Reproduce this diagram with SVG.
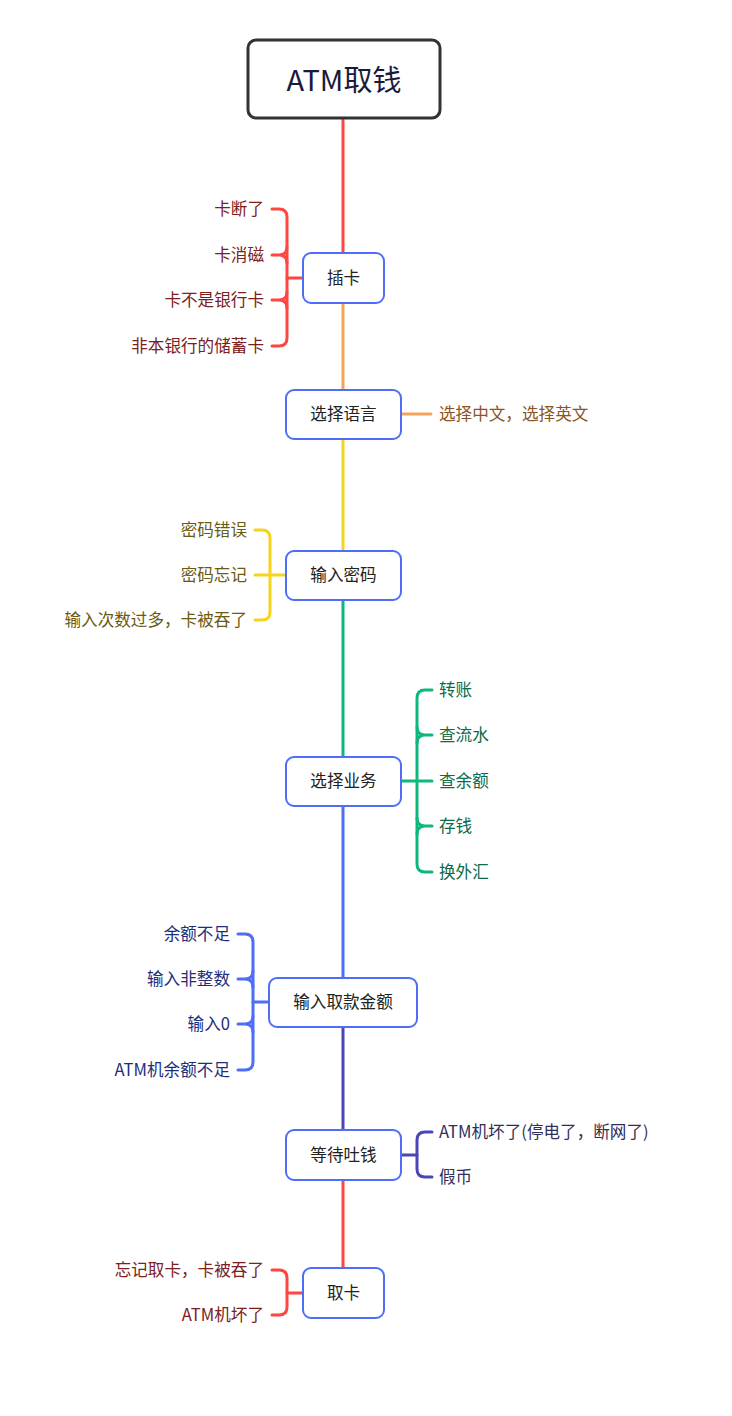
<svg xmlns="http://www.w3.org/2000/svg" width="732" height="1416" viewBox="0 0 732 1416">
<style>
text{font-family:"Noto Sans CJK SC","Noto Sans",sans-serif;font-size:16.6px;dominant-baseline:central}
.node rect{fill:#fff;stroke:#4f6ef7;stroke-width:2}
.node text{fill:#222;text-anchor:middle}
.c{fill:none;stroke-width:3;stroke-linecap:round}
.l{text-anchor:end}
</style>
<rect width="732" height="1416" fill="#fff"/>
<g id="connectors">
<path class="c" d="M343 120V253" stroke="#ff4640"/>
<path class="c" d="M343 303V390" stroke="#f4a45a"/>
<path class="c" d="M343 439V551" stroke="#f5d51c"/>
<path class="c" d="M343 600V757" stroke="#0db87a"/>
<path class="c" d="M343 806V978" stroke="#4f6ef7"/>
<path class="c" d="M343 1027V1130" stroke="#4b45b5"/>
<path class="c" d="M343 1180V1268" stroke="#ff4640"/>
<g stroke="#ff4640">
<path class="c" d="M303 278H287"/>
<path class="c" d="M272 209H279Q287 209 287 217V338Q287 346 279 346H272"/>
<path class="c" d="M272 255H279Q287 255 287 263M279 255Q287 255 287 247"/>
<path class="c" d="M272 300H279Q287 300 287 308M279 300Q287 300 287 292"/>
</g>
<path class="c" d="M402 414H431" stroke="#f4a45a"/>
<g stroke="#f5d51c">
<path class="c" d="M286 575H270"/>
<path class="c" d="M255 530H262Q270 530 270 538V612Q270 620 262 620H255"/>
<path class="c" d="M255 575H270"/>
</g>
<g stroke="#0db87a">
<path class="c" d="M402 781H417"/>
<path class="c" d="M432 690H425Q417 690 417 698V864Q417 872 425 872H432"/>
<path class="c" d="M432 735H425Q417 735 417 743M425 735Q417 735 417 727"/>
<path class="c" d="M432 781H417"/>
<path class="c" d="M432 826H425Q417 826 417 834M425 826Q417 826 417 818"/>
</g>
<g stroke="#4f6ef7">
<path class="c" d="M269 1002H253"/>
<path class="c" d="M238 934H245Q253 934 253 942V1062Q253 1070 245 1070H238"/>
<path class="c" d="M238 979H245Q253 979 253 987M245 979Q253 979 253 971"/>
<path class="c" d="M238 1024H245Q253 1024 253 1032M245 1024Q253 1024 253 1016"/>
</g>
<g stroke="#4b45b5">
<path class="c" d="M402 1155H417"/>
<path class="c" d="M432 1132H425Q417 1132 417 1140V1169Q417 1177 425 1177H432"/>
</g>
<g stroke="#ff4640">
<path class="c" d="M303 1293H287"/>
<path class="c" d="M272 1270H279Q287 1270 287 1278V1307Q287 1315 279 1315H272"/>
</g>
</g>
<g id="root">
<rect x="248" y="40" width="192" height="78" rx="8" fill="#fff" stroke="#333" stroke-width="3"/>
<text x="344" y="78" text-anchor="middle" fill="#1a1a3a" style="font-size:29px">ATM取钱</text>
</g>
<g id="n1" class="node"><rect x="303" y="253" width="81" height="50" rx="8"/><text x="343.5" y="277">插卡</text></g>
<g id="n2" class="node"><rect x="286" y="390" width="115" height="49" rx="8"/><text x="343.5" y="413">选择语言</text></g>
<g id="n3" class="node"><rect x="286" y="551" width="115" height="49" rx="8"/><text x="343.5" y="574">输入密码</text></g>
<g id="n4" class="node"><rect x="286" y="757" width="115" height="49" rx="8"/><text x="343.5" y="780">选择业务</text></g>
<g id="n5" class="node"><rect x="269" y="978" width="148" height="49" rx="8"/><text x="343" y="1001">输入取款金额</text></g>
<g id="n6" class="node"><rect x="286" y="1130" width="115" height="50" rx="8"/><text x="343.5" y="1154">等待吐钱</text></g>
<g id="n7" class="node"><rect x="303" y="1268" width="81" height="50" rx="8"/><text x="343.5" y="1292">取卡</text></g>
<g id="n1-sub" fill="#7a2020">
<text class="l" x="264" y="208">卡断了</text>
<text class="l" x="264" y="254">卡消磁</text>
<text class="l" x="264" y="299">卡不是银行卡</text>
<text class="l" x="264" y="345">非本银行的储蓄卡</text>
</g>
<g id="n2-sub" fill="#8a5424"><text x="439" y="413">选择中文，选择英文</text></g>
<g id="n3-sub" fill="#6b5a12">
<text class="l" x="247" y="529">密码错误</text>
<text class="l" x="247" y="574">密码忘记</text>
<text class="l" x="247" y="619">输入次数过多，卡被吞了</text>
</g>
<g id="n4-sub" fill="#0d6b48">
<text x="439" y="689">转账</text>
<text x="439" y="734">查流水</text>
<text x="439" y="780">查余额</text>
<text x="439" y="825">存钱</text>
<text x="439" y="871">换外汇</text>
</g>
<g id="n5-sub" fill="#1f2d7a">
<text class="l" x="230" y="933">余额不足</text>
<text class="l" x="230" y="978">输入非整数</text>
<text class="l" x="230" y="1023">输入0</text>
<text class="l" x="230" y="1069">ATM机余额不足</text>
</g>
<g id="n6-sub" fill="#2f2f5a">
<text x="439" y="1131">ATM机坏了(停电了，断网了)</text>
<text x="439" y="1176">假币</text>
</g>
<g id="n7-sub" fill="#7a2020">
<text class="l" x="264" y="1269">忘记取卡，卡被吞了</text>
<text class="l" x="264" y="1314">ATM机坏了</text>
</g>
</svg>
